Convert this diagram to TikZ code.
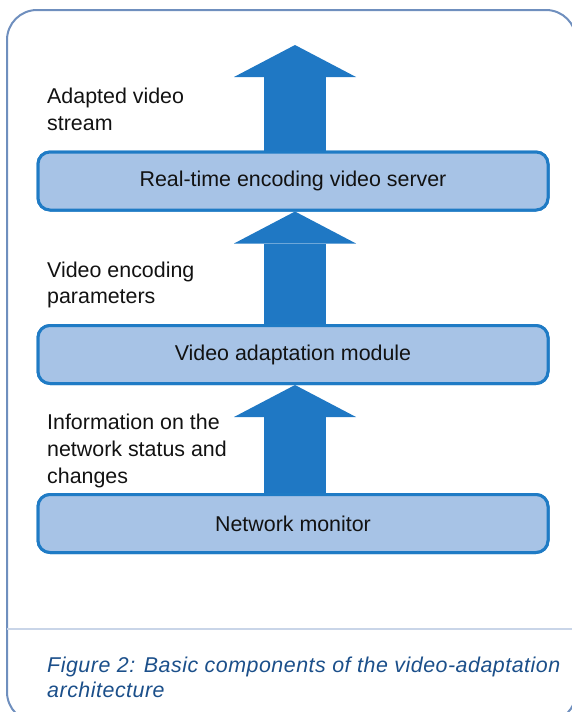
\documentclass[tikz,border=0pt]{standalone}
\usepackage{fontspec}
\setmainfont{Liberation Sans}
\newfontfamily\capfont[LetterSpace=2.4]{Liberation Sans}
\usetikzlibrary{arrows.meta}
\definecolor{boxfill}{HTML}{A7C3E6}
\definecolor{boxedge}{HTML}{1F7BC5}
\definecolor{arrowblue}{HTML}{1F78C4}
\definecolor{framecol}{HTML}{6F8FBE}
\definecolor{sepcol}{HTML}{C9D5E8}
\definecolor{capcol}{HTML}{1B4F8A}
\begin{document}
\begin{tikzpicture}[x=1pt,y=-1pt,
  box/.style={draw=boxedge, fill=boxfill, line width=3pt, rounded corners=12pt,
    minimum width=510pt, minimum height=58pt, inner sep=0pt,
    font=\fontsize{21.4}{26.7}\selectfont, text=black!93},
  lbl/.style={anchor=west, align=left, inner sep=0pt,
    font=\fontsize{21.4}{26.7}\selectfont, text=black!93},
  bigarrow/.style={draw=arrowblue, line width=62pt,
    -{Triangle[width=122pt,length=32pt,line width=0pt]}}]
\useasboundingbox (0,0) rectangle (572,712);
\clip (0,0) rectangle (572,712);
\draw[framecol, line width=2pt, rounded corners=30pt] (7,10) rectangle (576,722);
\draw[sepcol, line width=2pt] (7,629) -- (576,629);
% boxes
\node[box] (srv) at (293,181) {Real-time encoding video server};
\node[box] (adp) at (293,354.5) {Video adaptation module};
\node[box] (mon) at (293,523.5) {Network monitor};
\coordinate (out) at (295,45);
% arrows
\draw[bigarrow] ([xshift=2pt]srv.north) -- (out);
\draw[bigarrow] ([xshift=2pt]adp.north) -- ([xshift=2pt]srv.south);
\draw[bigarrow] ([xshift=2pt]mon.north) -- ([xshift=2pt]adp.south);
% redraw boxes on top
\node[box] at (srv) {Real-time encoding video server};
\node[box] at (adp) {Video adaptation module};
\node[box] at (mon) {Network monitor};
% labels
\node[lbl] (l1) at (47,109) {Adapted video\\stream};
\node[lbl] (l2) at (47,285) {Video encoding\\parameters};
\node[lbl] (l3) at (47,451) {Information on the\\network status and\\changes};
\node[lbl, text=capcol, font=\fontsize{21.4}{25}\selectfont\capfont\itshape] (cap) at (47,677.5)
  {Figure 2: Basic components of the video-adaptation\\architecture};
\end{tikzpicture}
\end{document}
